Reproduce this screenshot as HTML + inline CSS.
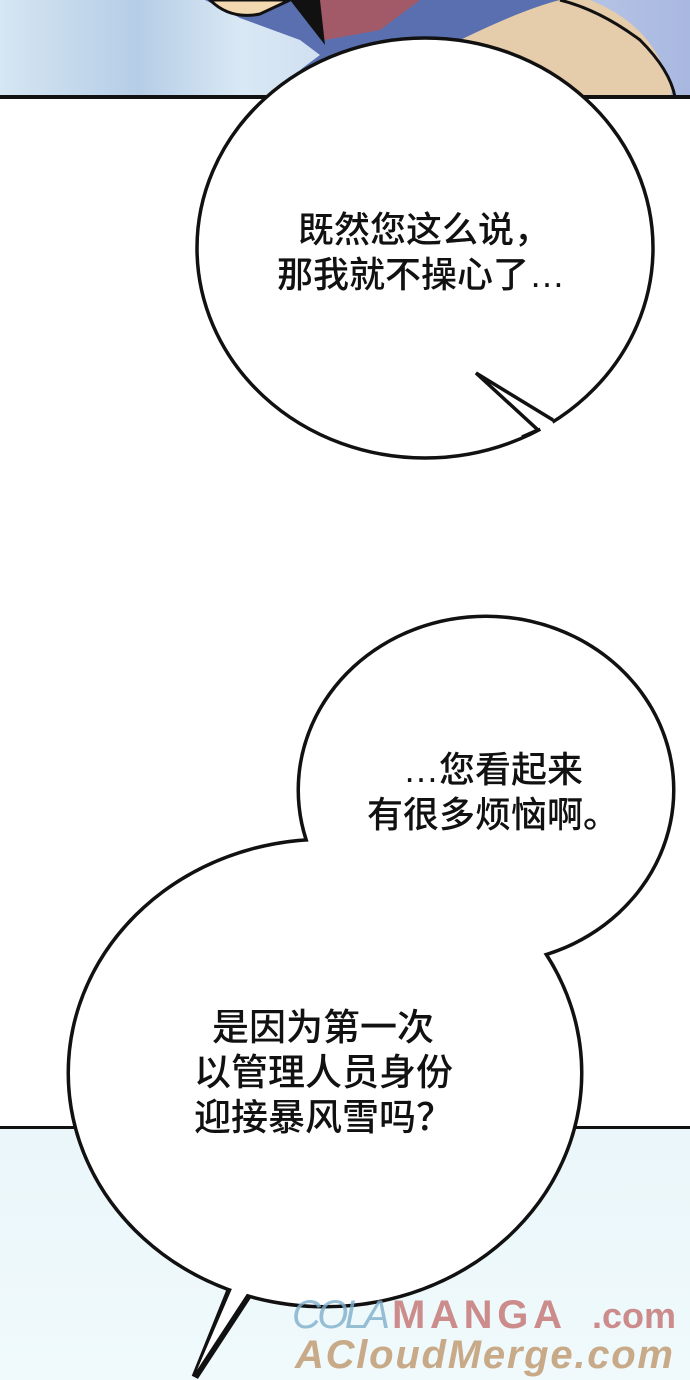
<!DOCTYPE html>
<html><head><meta charset="utf-8"><style>
html,body{margin:0;padding:0;background:#fff}
svg{display:block}
text{font-family:"Liberation Sans","Noto Sans CJK SC",sans-serif;fill:#111}
</style></head><body>
<svg width="690" height="1380" viewBox="0 0 690 1380" xmlns="http://www.w3.org/2000/svg">
<defs>
<linearGradient id="sky" x1="0" y1="0" x2="1" y2="0">
<stop offset="0" stop-color="#d6e6f3"/><stop offset="0.2" stop-color="#b5cde6"/><stop offset="0.35" stop-color="#d9e8f4"/><stop offset="1" stop-color="#a9b8e0"/>
</linearGradient>
<linearGradient id="snow" x1="0" y1="0" x2="0" y2="1">
<stop offset="0" stop-color="#eaf6fa"/><stop offset="1" stop-color="#f0fafc"/>
</linearGradient>
</defs>
<!-- top panel -->
<rect x="0" y="0" width="690" height="97" fill="url(#sky)"/>
<path d="M205 0 L240 18 L300 40 L320 55 L300 70 L305 97 L600 97 L640 80 L660 60 L640 40 L600 15 L560 0 Z" fill="#5a6fb0"/>
<path d="M300 0 L325 40 L380 30 L420 0 Z" fill="#a35a68"/>
<path d="M290 0 L325 45 L320 0 Z" fill="#111"/>
<path d="M210 0 Q230 20 260 14 L290 0 Z" fill="#f2d9b0" stroke="#111" stroke-width="3"/>
<path d="M450 45 Q520 10 560 0 L590 0 Q640 20 660 60 Q675 85 670 97 L470 97 Z" fill="#e5ccaa"/>
<path d="M560 0 Q600 10 640 40 Q670 70 675 97" fill="none" stroke="#111" stroke-width="3"/>
<path d="M305 97 L300 70 Q380 40 460 45 Q520 60 560 97 Z" fill="#eef0f4"/>
<rect x="0" y="95" width="690" height="4" fill="#111"/>
<!-- bottom panel -->
<rect x="0" y="1128" width="690" height="252" fill="url(#snow)"/>
<rect x="0" y="1126" width="690" height="3" fill="#111"/>

<!-- bubble 1 -->
<ellipse cx="425" cy="248" rx="228" ry="210" fill="#fff" stroke="#111" stroke-width="3.5"/>
<polygon points="539,426 551,419 556,429 543,436" fill="#fff"/>
<polyline points="522,437 538,430 476,373 553,420" fill="none" stroke="#111" stroke-width="3.5" stroke-linejoin="miter"/>

<!-- bubble 2+3 -->
<g stroke="#111" stroke-width="7" fill="#fff">
<ellipse cx="486" cy="790" rx="186" ry="172"/>
<ellipse cx="325" cy="1073" rx="255" ry="232"/>
<polygon points="232,1285 195,1377 252,1290"/>
</g>
<ellipse cx="486" cy="790" rx="186" ry="172" fill="#fff"/>
<ellipse cx="325" cy="1073" rx="255" ry="232" fill="#fff"/>
<polygon points="234,1284 197,1370 250,1289" fill="#fff"/>

<!-- text -->
<g font-size="36" font-weight="500">
<text x="298" y="242">既然您这么说，</text>
<text x="277" y="287">那我就不操心了…</text>
<text x="403" y="782">…您看起来</text>
<text x="367" y="827">有很多烦恼啊。</text>
</g>
<g font-size="37" font-weight="500">
<text x="212" y="1040">是因为第一次</text>
<text x="194" y="1085">以管理人员身份</text>
<text x="194" y="1130">迎接暴风雪吗？</text>
</g>
<!-- watermark -->
<text x="292" y="1328" font-size="40" font-family="Liberation Serif,serif" font-style="italic" style="fill:#7fb0cc;opacity:.8" textLength="98">COLA</text>
<text x="392" y="1328" font-size="40" font-family="Liberation Serif,serif" font-weight="bold" style="fill:#c77a78;opacity:.85" textLength="170">MANGA</text>
<text x="592" y="1328" font-size="36" font-weight="bold" style="fill:#c77a78;opacity:.85">.com</text>
<text x="295" y="1368" font-size="40" font-weight="bold" font-style="italic" style="fill:#c4a27c;opacity:.9" textLength="378">ACloudMerge.com</text>
</svg>
</body></html>
